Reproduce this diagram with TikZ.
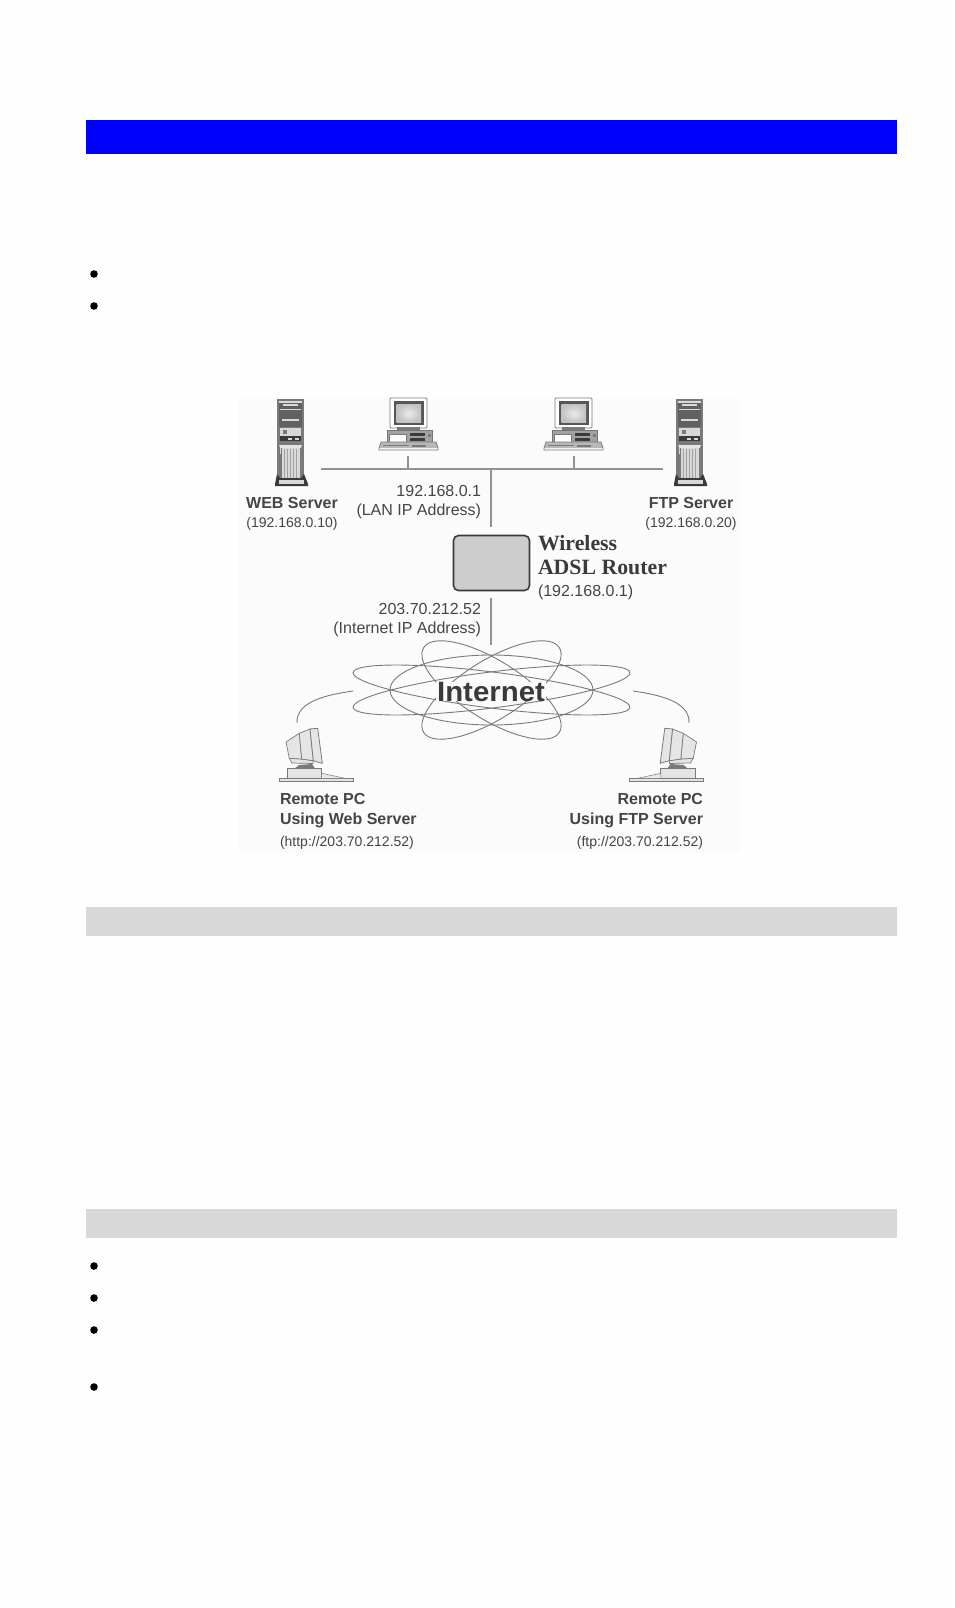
\documentclass[tikz,border=0pt]{standalone}
\usepackage{fontspec}
\setmainfont{Liberation Sans}
\newfontfamily\serifb{Liberation Serif}[BoldFont={Liberation Serif Bold}]
\definecolor{pagebg}{HTML}{FEFEFE}
\definecolor{figbg}{HTML}{FBFBFB}
\definecolor{ink}{HTML}{454545}
\definecolor{wire}{HTML}{929292}
\definecolor{midg}{HTML}{7A7A7A}
\definecolor{darkg}{HTML}{3A3A3A}
\definecolor{lightg}{HTML}{D8D8D8}
\newcommand{\fsz}[1]{\fontsize{#1}{#1}\selectfont}
\tikzset{
  x=1pt,y=-1pt,
  lab/.style={inner sep=0pt,outer sep=0pt,text=ink,font=\fsz{16}},
  smalllab/.style={lab,font=\fsz{14}},
  boldlab/.style={lab,font=\fsz{16}\bfseries},
  serlab/.style={lab,text=darkg,font=\fsz{21.8}\serifb\bfseries},
  wireline/.style={draw=wire,line width=1.2pt},
  orbit/.style={draw=midg,line width=0.9pt,fill=none},
  bullet/.style={circle,fill=black,inner sep=0pt,minimum size=7.6pt},
  bar/.style={inner sep=0pt,outer sep=0pt,anchor=north west,minimum height=#1,minimum width=811pt},
  pics/tower/.style={code={
    \fill[midg] (2,0) rectangle (29,81);
    \fill[lightg] (4,2) rectangle (27,3.5);
    \fill[darkg!80!white] (4,3.5) rectangle (27,14);
    \fill[lightg] (8,4.5) rectangle (23,7);
    \fill[lightg] (5,10) rectangle (26,11);
    \fill[darkg!80!white] (4,14) rectangle (27,28);
    \fill[lightg] (7,20) rectangle (24,22);
    \fill[lightg] (5,29) rectangle (26,55);
    \fill[midg] (8,31) rectangle (12,35);
    \fill[darkg] (5,37) rectangle (26,42);
    \fill[lightg] (13,38.5) rectangle (17,40.5);
    \fill[lightg] (20,38.5) rectangle (24,40.5);
    \fill[midg] (4,42) rectangle (27,46);
    \fill[white!90!black] (4,46) -- (27,46) -- (25,50) -- (6,50) -- cycle;
    \fill[lightg] (6,49) rectangle (25,80);
    \foreach \vx in {9,12,15,18,21}{\draw[midg!70!white,line width=0.5pt] (\vx,50) -- (\vx,79);}
    \draw[midg,line width=0.8pt] (6,49) -- (6,80) (25,49) -- (25,80);
    \fill[darkg] (2,75) -- (5,79) -- (26,79) -- (29,75) -- (33,85) -- (33,87) -- (0,87) -- (0,85) -- cycle;
    \fill[lightg] (4,81) rectangle (29,85);
  }},
  pics/desktop/.style={code={
    \fill[white] (11,0) rectangle (48,30);
    \draw[midg,line width=0.8pt,rounded corners=1pt] (11,0) rectangle (48,30);
    \fill[darkg!85!white] (14.5,3) rectangle (45,27);
    \shade[inner color=white!92!black,outer color=lightg!90!black] (17.5,6) rectangle (42,24.5);
    \fill[midg] (18,29) rectangle (41,33);
    \fill[lightg!75!black] (8,32) rectangle (53,46);
    \draw[darkg!70!white,line width=0.7pt] (8,32) -- (53,32) -- (53,46) -- (8,46) -- cycle;
    \fill[white] (10,36) rectangle (27,44);
    \draw[midg,line width=0.6pt] (10,36) rectangle (27,44);
    \fill[darkg] (31,35) rectangle (46,38);
    \fill[darkg] (31,40) rectangle (46,43);
    \fill[midg] (49,36) rectangle (52,39);
    \fill[lightg!85!black] (2,44) -- (57,44) -- (59,50) -- (0,50) -- cycle;
    \draw[midg,line width=0.8pt] (2,44) -- (57,44) -- (59,50) -- (59,52) -- (0,52) -- (0,50) -- cycle;
    \fill[midg] (33,47) rectangle (47,49);
    \draw[midg,line width=0.5pt] (4,47.5) -- (30,47.5);
  }},
  pics/remote/.style={code={
    \draw[midg,fill=lightg!70!white,line width=0.7pt] (0.3,36.3) rectangle (74.3,39.3);
    \draw[midg,fill=lightg!70!white,line width=0.7pt] (8.3,26.3) rectangle (42.7,36.3);
    \draw[midg,fill=lightg!60!white,line width=0.5pt] (42.7,31.3) -- (66,36.3) -- (42.7,36.3) -- cycle;
    \fill[midg] (16,26.3) -- (20,23) -- (33,22) -- (36,26.3) -- cycle;
    \draw[midg,fill=lightg!70!white,line width=0.7pt] (10.3,16.3) -- (22.7,17) -- (34.3,18.7) -- (34,21.5) -- (13,21) -- cycle;
    \draw[midg,fill=white!90!black,line width=0.7pt] (7,0) -- (20.3,-8.7) -- (22.7,17) -- (10.3,16.3) -- cycle;
    \draw[midg,fill=white!90!black,line width=0.7pt] (20.3,-8.7) -- (31,-13) -- (34.3,18.7) -- (22.7,17) -- cycle;
    \draw[midg,fill=white!90!black,line width=0.8pt] (31,-13) -- (38.7,-13.7) -- (43.3,21.3) -- (34.3,18.7) -- cycle;
  }}
}
\begin{document}
\begin{tikzpicture}
\useasboundingbox (0,0) rectangle (954,1608);
\fill[pagebg] (0,0) rectangle (954,1608);
\fill[figbg] (238,398) rectangle (741,852);

% page furniture
\node[bar=34pt,fill=blue] (bluebar) at (86,120) {};
\node[bar=29pt,fill=lightg] (greybarA) at (86,907) {};
\node[bar=29pt,fill=lightg] (greybarB) at (86,1209) {};
\node[bullet] (b1) at (94,274) {};
\node[bullet] (b2) at (94,306) {};
\node[bullet] (b3) at (94,1266) {};
\node[bullet] (b4) at (94,1298) {};
\node[bullet] (b5) at (94,1330) {};
\node[bullet] (b6) at (94,1387) {};

% bus and connectors
\coordinate (busL) at (321,469);
\coordinate (busR) at (663,469);
\coordinate (pc1stub) at (408,456);
\coordinate (pc1bus) at (408,469);
\coordinate (pc2stub) at (574,456);
\coordinate (pc2bus) at (574,469);
\coordinate (busMid) at (491,469);
\coordinate (lanEnd) at (491,527);
\coordinate (wanTop) at (491,598);
\coordinate (wanEnd) at (491,645);
\draw[wireline] (busL) -- (busR);
\draw[wireline] (pc1stub) -- (pc1bus);
\draw[wireline] (pc2stub) -- (pc2bus);
\draw[wireline] (busMid) -- (lanEnd);
\draw[wireline] (wanTop) -- (wanEnd);

% hosts
\pic at (275,399) {tower};
\pic at (674,399) {tower};
\pic at (379,398) {desktop};
\pic at (544,398) {desktop};
\begin{scope}[shift={(279,742)}]
\pic[transform shape] {remote};
\end{scope}
\begin{scope}[shift={(703.5,742)},xscale=-1]
\pic[transform shape] {remote};
\end{scope}

% router
\node[draw=darkg,line width=1.6pt,fill=lightg!95!black,rounded corners=5pt,minimum width=76pt,minimum height=55pt,inner sep=0pt] (router) at (491.5,563) {};

% cloud
\draw[orbit,rotate around={7.2:(491.5,690)}] (491.5,690) ellipse [x radius=139.5,y radius=18];
\draw[orbit,rotate around={-7.2:(491.5,690)}] (491.5,690) ellipse [x radius=139.5,y radius=18];
\draw[orbit] (491.5,690) ellipse [x radius=101.5,y radius=35];
\draw[orbit,rotate around={32:(491.5,690)}] (491.5,690) ellipse [x radius=80,y radius=29.5];
\draw[orbit,rotate around={-32:(491.5,690)}] (491.5,690) ellipse [x radius=80,y radius=29.5];
\node[fill=figbg,inner xsep=1pt,inner ysep=0pt,text=darkg,font=\fsz{28}\bfseries] (cloud) at (491,691.5) {\scalebox{1.05}[1]{Internet}};

% remote links
\coordinate (linkLa) at (353,691);
\coordinate (linkLb) at (297,723);
\coordinate (linkRa) at (633,691);
\coordinate (linkRb) at (689,723);
\draw[orbit] (linkLa) .. controls (325,695) and (296,702) .. (linkLb);
\draw[orbit] (linkRa) .. controls (661,695) and (690,702) .. (linkRb);

% labels
\node[boldlab,anchor=base] (webl) at (292,508) {WEB Server};
\node[smalllab,anchor=base] (webip) at (292,527) {(192.168.0.10)};
\node[boldlab,anchor=base] (ftpl) at (691,508) {FTP Server};
\node[smalllab,anchor=base] (ftpip) at (691,527) {(192.168.0.20)};
\node[lab,anchor=base east] (lanip) at (481,496) {192.168.0.1};
\node[lab,anchor=base east] (lant) at (481,515.5) {(LAN IP Address)};
\node[serlab,anchor=base west] (rt1) at (538,550) {Wireless};
\node[serlab,anchor=base west] (rt2) at (538,574) {ADSL Router};
\node[lab,anchor=base west] (rt3) at (538,596) {(192.168.0.1)};
\node[lab,anchor=base east] (wanip) at (481,614) {203.70.212.52};
\node[lab,anchor=base east] (want) at (481,633) {(Internet IP Address)};
\node[boldlab,anchor=base west] (r1a) at (280,804) {Remote PC};
\node[boldlab,anchor=base west] (r1b) at (280,824) {Using Web Server};
\node[smalllab,anchor=base west] (r1c) at (280,846) {(http://203.70.212.52)};
\node[boldlab,anchor=base east] (r2a) at (703,804) {Remote PC};
\node[boldlab,anchor=base east] (r2b) at (703,824) {Using FTP Server};
\node[smalllab,anchor=base east] (r2c) at (703,846) {(ftp://203.70.212.52)};
\end{tikzpicture}
\end{document}
